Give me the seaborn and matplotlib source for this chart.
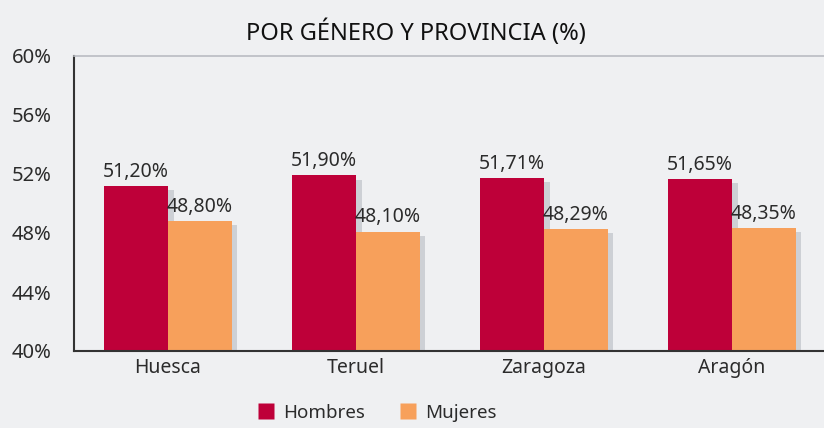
import pandas as pd
import matplotlib
matplotlib.use("Agg")
import matplotlib.pyplot as plt
import matplotlib.patheffects as pe
from matplotlib.lines import Line2D
import seaborn as sns

# Data
provincias = ["Huesca", "Teruel", "Zaragoza", "Aragón"]
hombres = [51.20, 51.90, 51.71, 51.65]
mujeres = [48.80, 48.10, 48.29, 48.35]
series = ["Hombres", "Mujeres"]
colores = ["#BE0039", "#F7A05B"]
yticks = [40, 44, 48, 52, 56, 60]

df = pd.DataFrame({
    "Provincia": provincias * 2,
    "Sexo": ["Hombres"] * len(provincias) + ["Mujeres"] * len(provincias),
    "Valor": hombres + mujeres,
})

sns.set_style("white")
plt.rcParams["font.family"] = ["Noto Sans", "DejaVu Sans"]
text_color = "#2b2b2b"

fig = plt.figure(figsize=(8.24, 4.28), dpi=100, facecolor="#eff0f2")
ax = fig.add_axes([74 / 824, 1 - 351 / 428, 752 / 824, 295 / 428])
ax.set_facecolor("none")

sns.barplot(data=df, x="Provincia", y="Valor", hue="Sexo", order=provincias,
            hue_order=series, palette=colores, width=0.68, saturation=1,
            legend=False, ax=ax)

# soft drop shadow behind the bars
shadow = [pe.SimplePatchShadow(offset=(4, -3), shadow_rgbFace="#9aa0aa", alpha=0.4),
          pe.Normal()]
for p in ax.patches:
    p.set_path_effects(shadow)
    p.set_edgecolor("none")

for cont in ax.containers:
    labels = [f"{v:.2f}%".replace(".", ",") for v in cont.datavalues]
    ax.bar_label(cont, labels=labels, padding=3, fontsize=14, color=text_color)

ax.set_ylim(40, 60)
ax.set_xlim(-0.5, 3.5)
ax.set_yticks(yticks)
ax.set_yticklabels([f"{t}%" for t in yticks], fontsize=14.5, color=text_color)
ax.tick_params(axis="y", direction="out", length=6, width=1.2, color="#333333", pad=10)
ax.tick_params(axis="x", length=0, labelsize=14, labelcolor=text_color, pad=5)
ax.set_xlabel("")
ax.set_ylabel("")

for side in ["left", "bottom"]:
    ax.spines[side].set_color("#333333")
    ax.spines[side].set_linewidth(1.5)
ax.spines["top"].set_color("#b9bcc2")
ax.spines["top"].set_linewidth(1.2)
ax.spines["right"].set_visible(False)

fig.text(0.505, 0.923, "POR GÉNERO Y PROVINCIA (%)", ha="center", va="center",
         fontsize=17, color="#111111")

handles = [Line2D([0], [0], marker="s", linestyle="none", markersize=12,
                  markerfacecolor=c, markeredgecolor="none") for c in colores]
fig.legend(handles, series, loc="center", bbox_to_anchor=(0.457, 0.035), ncol=2,
           frameon=False, fontsize=13.5, handletextpad=0.4, columnspacing=1.8,
           handlelength=1.0, labelcolor=text_color)

fig.savefig("out.png", dpi=100, facecolor=fig.get_facecolor())
